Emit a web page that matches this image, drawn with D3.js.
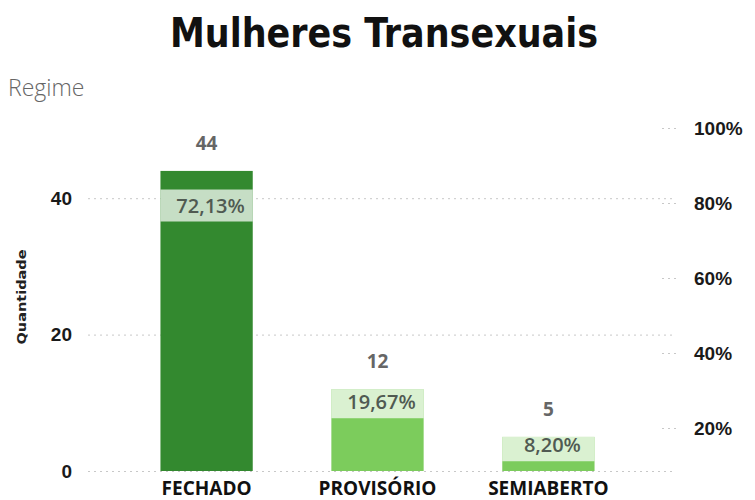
<!DOCTYPE html>
<html>
<head>
<meta charset="utf-8">
<script src="https://cdn.jsdelivr.net/npm/d3@7"></script>
<style>
  body { margin: 0; background: #fff; }
  svg { font-family: "Open Sans", "Noto Sans", sans-serif; }
  .grid line { stroke: #c8c8c8; stroke-dasharray: 2,4; }
  .grid path { display: none; }
  .axis text { font-weight: 700; fill: #1a1a1a; font-size: 19px; }
</style>
</head>
<body>
<svg width="755" height="500"></svg>
<script>
var categories = ["FECHADO", "PROVISÓRIO", "SEMIABERTO"];
var quantidade = [44, 12, 5];
var percentual = [0.7213, 0.1967, 0.0820];
var pctLabels = ["72,13%", "19,67%", "8,20%"];
var leftTicks = [0, 20, 40];
var rightTicks = [0.2, 0.4, 0.6, 0.8, 1.0];
var barColors = ["#33892f", "#7ccc5c", "#7ccc5c"];

var svg = d3.select("svg"),
    width = +svg.attr("width"),
    height = +svg.attr("height");

var x = d3.scaleBand()
    .domain(categories)
    .range([75, 680])
    .paddingInner(0.46)
    .paddingOuter(0.5);

var y = d3.scaleLinear()
    .domain([0, 50])
    .range([471, 130]);

var yPct = d3.scaleLinear()
    .domain([0, 1])
    .range([503, 128]);

// title + subtitle
svg.append("text")
    .attr("x", 384)
    .attr("y", 47)
    .attr("text-anchor", "middle")
    .attr("textLength", 428)
    .attr("lengthAdjust", "spacingAndGlyphs")
    .style("font-family", "'DejaVu Sans Condensed', 'DejaVu Sans', sans-serif")
    .style("font-weight", 700)
    .style("font-size", "41px")
    .style("fill", "#111")
    .text("Mulheres Transexuais");

svg.append("text")
    .attr("x", 8)
    .attr("y", 96)
    .style("font-weight", 300)
    .style("font-size", "23px")
    .style("fill", "#666")
    .text("Regime");

// left axis with gridlines
var yAxis = d3.axisLeft(y)
    .tickValues(leftTicks)
    .tickSize(-584)
    .tickPadding(16);

var gY = svg.append("g")
    .attr("class", "axis grid")
    .attr("transform", "translate(88,0)")
    .call(yAxis);

// right axis, short dotted ticks
var yAxisR = d3.axisRight(yPct)
    .tickValues(rightTicks)
    .tickSize(-16)
    .tickPadding(18)
    .tickFormat(d3.format(".0%"));

var gYR = svg.append("g")
    .attr("class", "axis grid")
    .attr("transform", "translate(676,0)")
    .call(yAxisR);

svg.append("text")
    .attr("transform", "translate(26,297) rotate(-90)")
    .attr("text-anchor", "middle")
    .attr("textLength", 95)
    .attr("lengthAdjust", "spacingAndGlyphs")
    .style("font-family", "'DejaVu Sans Condensed', sans-serif")
    .style("font-weight", 700)
    .style("font-size", "13px")
    .style("fill", "#222")
    .text("Quantidade");

// category labels
svg.selectAll(".cat")
    .data(categories)
    .enter().append("text")
    .attr("class", "cat")
    .attr("x", (d) => x(d) + x.bandwidth() / 2)
    .attr("y", 495)
    .attr("text-anchor", "middle")
    .style("font-weight", 700)
    .style("font-size", "19px")
    .style("fill", "#111")
    .text((d) => d);

// bars
var rows = categories.map((c, i) => ({ cat: c, q: quantidade[i], p: percentual[i], lbl: pctLabels[i], color: barColors[i] }));

svg.selectAll(".bar")
    .data(rows)
    .enter().append("rect")
    .attr("class", "bar")
    .attr("x", (d) => x(d.cat))
    .attr("y", (d) => y(d.q))
    .attr("width", x.bandwidth())
    .attr("height", (d) => y(0) - y(d.q))
    .attr("fill", (d) => d.color);

// count labels
svg.selectAll(".qlabel")
    .data(rows)
    .enter().append("text")
    .attr("class", "qlabel")
    .attr("x", (d) => x(d.cat) + x.bandwidth() / 2)
    .attr("y", (d) => y(d.q) - 28)
    .attr("dy", "0.35em")
    .attr("text-anchor", "middle")
    .style("font-weight", 700)
    .style("font-size", "19px")
    .style("fill", "#666")
    .text((d) => d.q);

// percentage labels with light box, clipped to the bar
const boxH = 32;
const lift = 27;

svg.selectAll(".pbox")
    .data(rows)
    .enter().append("rect")
    .attr("class", "pbox")
    .attr("x", (d) => x(d.cat))
    .attr("y", (d) => Math.max(yPct(d.p) - lift - boxH / 2, y(d.q)))
    .attr("width", x.bandwidth())
    .attr("height", (d) => yPct(d.p) - lift + boxH / 2 - Math.max(yPct(d.p) - lift - boxH / 2, y(d.q)))
    .attr("fill", "#fff")
    .attr("fill-opacity", 0.72);

svg.selectAll(".plabel")
    .data(rows)
    .enter().append("text")
    .attr("class", "plabel")
    .attr("x", (d) => x(d.cat) + x.bandwidth() / 2 + 4)
    .attr("y", (d) => yPct(d.p) - lift)
    .attr("dy", "0.35em")
    .attr("text-anchor", "middle")
    .style("font-weight", 600)
    .style("font-size", "20px")
    .style("fill", "#505a52")
    .text((d) => d.lbl);
</script>
</body>
</html>
